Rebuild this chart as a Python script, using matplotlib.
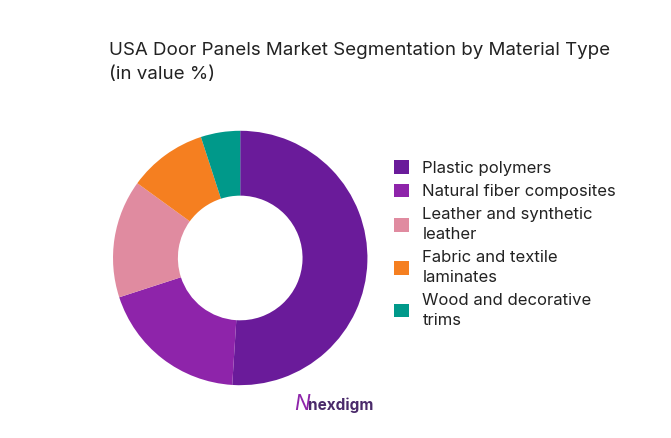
import matplotlib.pyplot as plt

plt.rcParams['font.family'] = ['Inter', 'DejaVu Sans']

labels = ['Plastic polymers', 'Natural fiber composites', 'Leather and synthetic\nleather',
          'Fabric and textile\nlaminates', 'Wood and decorative\ntrims']
values = [51, 19, 15, 10, 5]
colors = ['#6A1B9A', '#8E24AA', '#E08BA0', '#F57F20', '#00998A']

fig = plt.figure(figsize=(6.71, 4.38), dpi=100)
w, h = 0.40, 0.40 * 671 / 438
ax = fig.add_axes([0.358 - w / 2, 0.411 - h / 2, w, h])
wedges, _ = ax.pie(values, colors=colors, startangle=90, counterclock=False,
                   radius=1.0, wedgeprops=dict(width=0.51))
ax.set_xlim(-1.055, 1.055)
ax.set_ylim(-1.055, 1.055)
ax.set_aspect('equal')

fig.text(0.163, 0.857, 'USA Door Panels Market Segmentation by Material Type\n(in value %)',
         fontsize=13.5, color='#222222', va='center', linespacing=1.55)

leg = fig.legend(wedges, labels, loc='upper left', bbox_to_anchor=(0.565, 0.668),
                 frameon=False, fontsize=12, handlelength=0.9, handleheight=0.9,
                 labelspacing=0.45, handletextpad=0.8, labelcolor='#222222')
for t in leg.get_texts():
    t.set_linespacing(1.45)

fig.text(0.508, 0.075, 'nexdigm', fontsize=11, color='#4a2a6a', ha='center', va='center',
         fontweight='bold')
fig.text(0.45, 0.077, 'N', fontsize=15, color='#8E24AA', ha='center', va='center',
         fontstyle='italic')

fig.savefig('out.png', dpi=100, facecolor='white')
